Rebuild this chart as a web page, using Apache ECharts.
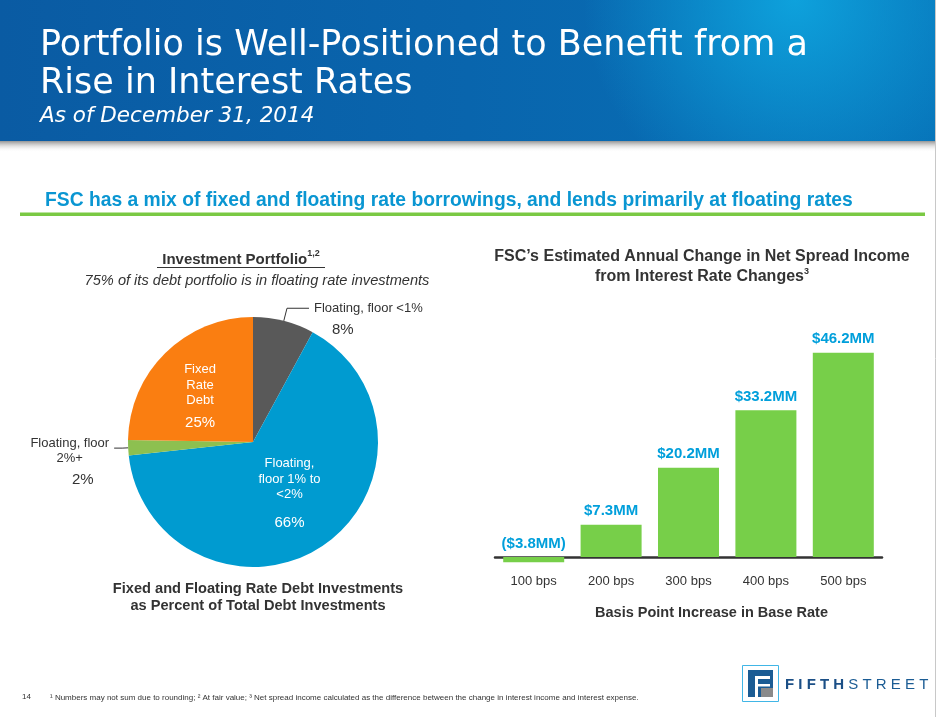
<!DOCTYPE html>
<html><head><meta charset="utf-8">
<script src="https://cdn.jsdelivr.net/npm/echarts@6/dist/echarts.min.js"></script>
<style>html,body{margin:0;padding:0;background:#fff}#c{width:937px;height:717px}</style>
</head><body><div id="c"></div>
<script>
// ---- data ----
const pieNames = ['Floating, floor <1%', 'Floating, floor 1% to <2%', 'Floating, floor 2%+', 'Fixed Rate Debt'];
const pieValues = [8, 66, 2, 25];
const pieLabelLines = [['Floating, floor <1%'], ['Floating,', 'floor 1% to', '<2%'], ['Floating, floor', '2%+'], ['Fixed', 'Rate', 'Debt']];
const piePercents = ['8%', '66%', '2%', '25%'];
const barCategories = ['100 bps', '200 bps', '300 bps', '400 bps', '500 bps'];
const barValues = [-3.8, 7.3, 20.2, 33.2, 46.2];
const barLabels = ['($3.8MM)', '$7.3MM', '$20.2MM', '$33.2MM', '$46.2MM'];

// ---- styles ----
const FONT = "'Liberation Sans', Arial, sans-serif";
const TITLE_FONT = "'DejaVu Sans', Verdana, sans-serif";
const pieColors = ['#595959', '#009BD0', '#8DC050', '#FA7E11'];
const dark = '#333333';

const pieLabelCfg = [
  { position: 'outside', padding: [28, 0, 0, 0],
    formatter: '{n|' + pieLabelLines[0][0] + '}\n{p|' + piePercents[0] + '}',
    rich: { n: { fontSize: 13, lineHeight: 16, color: dark, fontFamily: FONT },
            p: { fontSize: 15, lineHeight: 28, color: dark, fontFamily: FONT, padding: [0, 0, 0, 18] } } },
  { position: 'inside', padding: [6, 0, 0, 0],
    formatter: pieLabelLines[1].map(s => '{n|' + s + '}').join('\n') + '\n{p|' + piePercents[1] + '}',
    rich: { n: { fontSize: 13, lineHeight: 15.5, color: '#fff', fontFamily: FONT, align: 'center' },
            p: { fontSize: 15, lineHeight: 40, color: '#fff', fontFamily: FONT, align: 'center' } } },
  { position: 'outside', padding: [34, 0, 0, 0],
    formatter: '{n|' + pieLabelLines[2][0] + '}\n{m|' + pieLabelLines[2][1] + '}\n{p|' + piePercents[2] + '}',
    rich: { n: { fontSize: 13, lineHeight: 15, color: dark, fontFamily: FONT, align: 'right' },
            m: { fontSize: 13, lineHeight: 15, color: dark, fontFamily: FONT, align: 'center' },
            p: { fontSize: 15, lineHeight: 29, color: dark, fontFamily: FONT, align: 'center', padding: [0, 0, 0, 26] } } },
  { position: 'inside', padding: [8, 14, 0, 0],
    formatter: pieLabelLines[3].map(s => '{n|' + s + '}').join('\n') + '\n{p|' + piePercents[3] + '}',
    rich: { n: { fontSize: 13, lineHeight: 15.5, color: '#fff', fontFamily: FONT, align: 'center' },
            p: { fontSize: 15, lineHeight: 28, color: '#fff', fontFamily: FONT, align: 'center' } } }
];
const pieLineCfg = [
  { show: true, length: 13, length2: 22, lineStyle: { color: dark, width: 1 } },
  { show: false },
  { show: true, length: 6, length2: 8, lineStyle: { color: dark, width: 1 } },
  { show: false }
];
const pieData = pieValues.map((v, i) => ({
  name: pieNames[i], value: v,
  itemStyle: { color: pieColors[i] },
  label: Object.assign({ show: true }, pieLabelCfg[i]),
  labelLine: pieLineCfg[i]
}));

const chart = echarts.init(document.getElementById('c'), null, { renderer: 'canvas' });

function txt(text, x, y, opts) {
  return { type: 'text', silent: true, style: Object.assign({
    text: text, x: x, y: y, fill: dark, fontFamily: FONT, fontSize: 13,
    align: 'center', textAlign: 'center', verticalAlign: 'middle', textVerticalAlign: 'middle'
  }, opts || {}) };
}

const graphics = [
  // header band
  { type: 'rect', silent: true, shape: { x: 0, y: 0, width: 935, height: 141 },
    style: { fill: new echarts.graphic.LinearGradient(0, 0, 1, 0, [
      { offset: 0, color: '#0A5BA3' }, { offset: 0.5, color: '#0965AD' }, { offset: 1, color: '#0772B8' }]) } },
  { type: 'rect', silent: true, shape: { x: 0, y: 0, width: 935, height: 141 },
    style: { fill: new echarts.graphic.RadialGradient(0.85, 0, 1.5, [
      { offset: 0, color: 'rgba(14,164,222,0.95)' }, { offset: 1, color: 'rgba(14,164,222,0)' }]) } },
  { type: 'rect', silent: true, shape: { x: 0, y: 141, width: 935, height: 11 },
    style: { fill: new echarts.graphic.LinearGradient(0, 0, 0, 1, [
      { offset: 0, color: 'rgba(130,130,130,0.85)' }, { offset: 1, color: 'rgba(255,255,255,0)' }]) } },
  { type: 'line', silent: true, shape: { x1: 935.5, y1: 0, x2: 935.5, y2: 717 }, style: { stroke: '#c8c8c8', lineWidth: 1 } },
  txt('Portfolio is Well-Positioned to Benefit from a', 40, 46, { fill: '#fff', fontSize: 35, fontFamily: TITLE_FONT, align: 'left', textAlign: 'left' }),
  txt('Rise in Interest Rates', 40, 84, { fill: '#fff', fontSize: 35, fontFamily: TITLE_FONT, align: 'left', textAlign: 'left' }),
  txt('As of December 31, 2014', 40, 116, { fill: '#fff', fontSize: 21.5, fontStyle: 'italic', fontFamily: TITLE_FONT, align: 'left', textAlign: 'left' }),
  // section headline
  txt('FSC has a mix of fixed and floating rate borrowings, and lends primarily at floating rates', 45, 201,
      { fill: '#0A96D2', fontSize: 19.3, fontWeight: 'bold', align: 'left', textAlign: 'left' }),
  { type: 'rect', silent: true, shape: { x: 20, y: 212.5, width: 905, height: 3.5 }, style: { fill: '#7AC943' } },
  // pie titles
  { type: 'text', silent: true, style: {
      text: '{t|Investment Portfolio}{s|1,2}', x: 241, y: 258, align: 'center', textAlign: 'center', verticalAlign: 'middle', textVerticalAlign: 'middle',
      rich: { t: { fontSize: 15, fontWeight: 'bold', fill: dark, fontFamily: FONT, lineHeight: 18, verticalAlign: 'bottom' },
              s: { fontSize: 9, fontWeight: 'bold', fill: dark, fontFamily: FONT, lineHeight: 18, verticalAlign: 'top' } } } },
  { type: 'line', silent: true, shape: { x1: 157, y1: 267.5, x2: 325, y2: 267.5 }, style: { stroke: dark, lineWidth: 1 } },
  txt('75% of its debt portfolio is in floating rate investments', 257, 281, { fontSize: 14.6, fontStyle: 'italic' }),
  txt('Fixed and Floating Rate Debt Investments', 258, 589, { fontSize: 14.6, fontWeight: 'bold' }),
  txt('as Percent of Total Debt Investments', 258, 606, { fontSize: 14.6, fontWeight: 'bold' }),
  // bar titles
  txt('FSC\u2019s Estimated Annual Change in Net Spread Income', 702, 257, { fontSize: 16, fontWeight: 'bold' }),
  { type: 'text', silent: true, style: {
      text: '{t|from Interest Rate Changes}{s|3}', x: 702, y: 276, align: 'center', textAlign: 'center', verticalAlign: 'middle', textVerticalAlign: 'middle',
      rich: { t: { fontSize: 16, fontWeight: 'bold', fill: dark, fontFamily: FONT, lineHeight: 18, verticalAlign: 'bottom' },
              s: { fontSize: 9, fontWeight: 'bold', fill: dark, fontFamily: FONT, lineHeight: 18, verticalAlign: 'top' } } } },
  // footer
  txt('14', 22, 697, { fontSize: 8, align: 'left', textAlign: 'left' }),
  txt('\u00B9 Numbers may not sum due to rounding; \u00B2 At fair value; \u00B3 Net spread income calculated as the difference between the change in interest income and interest expense.', 50, 698,
      { fontSize: 8, align: 'left', textAlign: 'left' }),
  // logo
  { type: 'rect', silent: true, shape: { x: 742.5, y: 665.5, width: 36, height: 36 }, style: { fill: '#fff', stroke: '#41B6E6', lineWidth: 1 } },
  { type: 'rect', silent: true, shape: { x: 748, y: 670, width: 25, height: 27 }, style: { fill: '#1B5C94' } },
  { type: 'rect', silent: true, shape: { x: 755, y: 676, width: 15, height: 3 }, style: { fill: '#fff' } },
  { type: 'rect', silent: true, shape: { x: 755, y: 679, width: 3, height: 18 }, style: { fill: '#fff' } },
  { type: 'rect', silent: true, shape: { x: 758, y: 684, width: 12, height: 2.5 }, style: { fill: '#fff' } },
  { type: 'rect', silent: true, shape: { x: 761, y: 688, width: 12, height: 9 }, style: { fill: '#8A8A8A' } },
  { type: 'text', silent: true, style: {
      text: '{b|F I F T H }{r|S T R E E T}', x: 785, y: 685, align: 'left', textAlign: 'left', verticalAlign: 'middle', textVerticalAlign: 'middle',
      rich: { b: { fontSize: 15, fontWeight: 'bold', fill: '#1B4F86', fontFamily: FONT },
              r: { fontSize: 15, fill: '#1B5C94', fontFamily: FONT } } } }
];

chart.setOption({
  animation: false,
  textStyle: { fontFamily: FONT },
  graphic: { elements: graphics },
  grid: { left: 495, right: 55, top: 336, bottom: 154.7, containLabel: false },
  xAxis: {
    type: 'category', data: barCategories,
    axisLine: { show: true, onZero: true, lineStyle: { color: dark, width: 2.5 } },
    axisTick: { show: false },
    axisLabel: { margin: 13, fontSize: 13, color: dark, fontFamily: FONT },
    name: 'Basis Point Increase in Base Rate', nameLocation: 'middle', nameGap: 43,
    nameTextStyle: { fontSize: 14.5, fontWeight: 'bold', color: dark, fontFamily: FONT, padding: [0, 0, 0, 46] }
  },
  yAxis: { type: 'value', min: -1.2, max: 50, show: false, splitLine: { show: false } },
  series: [
    { type: 'bar', data: barValues, barWidth: 61, clip: true,
      itemStyle: { color: '#77CF49' },
      label: { show: true, position: 'top', distance: 6, formatter: p => barLabels[p.dataIndex],
               color: '#009FDB', fontSize: 15, fontWeight: 'bold', fontFamily: FONT },
      emphasis: { disabled: true } },
    { type: 'pie', center: [253, 442], radius: 125, startAngle: 90, clockwise: true,
      avoidLabelOverlap: false, data: pieData, emphasis: { disabled: true },
      label: { show: true }, labelLine: { show: true } }
  ]
});
</script>
</body></html>
